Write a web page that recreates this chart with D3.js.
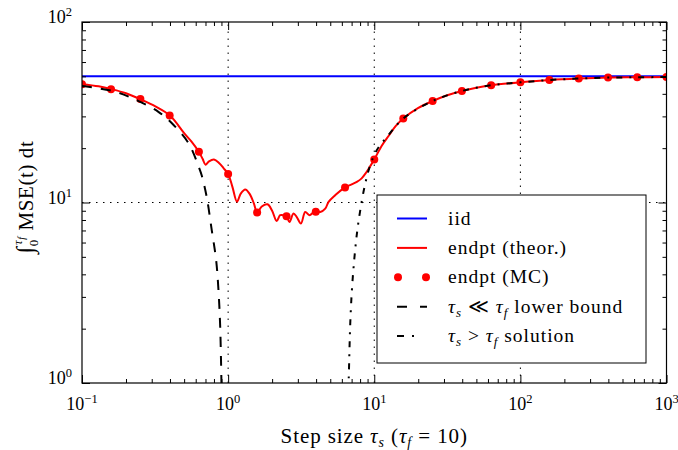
<!DOCTYPE html>
<html>
<head>
<meta charset="utf-8">
<script src="https://cdn.jsdelivr.net/npm/d3@7"></script>
<style>
  body { margin: 0; background: #fff; }
  svg { display: block; }
</style>
</head>
<body>
<div id="chart"></div>
<script>
// ---- data ----
const majorX = [0.1, 1, 10, 100, 1000];
const xExp = ["\u22121", "0", "1", "2", "3"];
const majorY = [1, 10, 100];
const yExp = ["0", "1", "2"];
const gridX = [1, 10, 100];
const gridY = [10];

const iidLevel = 50;

// endpt (theor.)
const theorX = [0.1, 0.13, 0.16, 0.2, 0.25, 0.32, 0.4, 0.5, 0.56, 0.63, 0.67, 0.7, 0.74, 0.8, 0.87, 0.93, 1.0,
  1.07, 1.15, 1.22, 1.31, 1.4, 1.5, 1.58, 1.7, 1.86, 2.0, 2.15, 2.27, 2.4, 2.5, 2.63, 2.8, 2.95, 3.15, 3.37,
  3.6, 3.94, 4.27, 4.62, 4.87, 5.4, 6.26, 7.0, 7.6, 8.2, 8.7, 9.3, 10, 11.2, 12.6, 14, 15.8, 19.9, 25.1, 31.6,
  39.8, 50, 63, 100, 158, 251, 398, 631, 1000];
const theorY = [45.2, 44.0, 42.4, 40.3, 37.4, 34.0, 30.3, 24.2, 21.8, 19.1, 17.4, 16.2, 16.9, 17.3, 16.5, 15.5, 14.4,
  12.2, 10.1, 11.2, 11.8, 11.2, 9.9, 8.8, 9.5, 9.77, 9.0, 7.9, 8.5, 8.5, 8.4, 7.8, 8.7, 8.3, 7.64, 8.86,
  8.5, 8.97, 8.86, 9.25, 10.07, 10.96, 12.1, 12.6, 13.0, 13.6, 14.45, 15.7, 17.3, 20.5, 23.5, 26.5, 29.2, 33.3, 36.5, 39.3,
  41.5, 43.2, 44.6, 46.3, 47.7, 48.6, 49.2, 49.4, 49.6];

// endpt (MC)
const mcX = [0.1, 0.158, 0.251, 0.398, 0.631, 1, 1.58, 2.51, 3.98, 6.31, 10, 15.8, 25.1, 39.8, 63.1, 100, 158, 251, 398, 631, 1000];
const mcY = [45.2, 42.4, 37.4, 30.3, 19.1, 14.4, 8.8, 8.4, 8.9, 12.1, 17.3, 29.2, 36.5, 41.5, 44.6, 46.3, 47.7, 48.6, 49.2, 49.4, 49.6];

// tau_s << tau_f lower bound
const lowX = [0.1, 0.165, 0.238, 0.335, 0.425, 0.538, 0.63, 0.66, 0.714, 0.773, 0.828, 0.859, 0.881, 0.895, 0.902];
const lowY = [44.2, 41.3, 36.8, 31.7, 26.8, 21.2, 15.7, 14.1, 10.7, 7.0, 4.79, 3.26, 2.13, 1.28, 0.9];

// tau_s > tau_f solution
const solX = [6.62, 6.67, 6.85, 7.03, 7.29, 7.61, 8.02, 8.67, 9.39, 10.4, 12.6, 15.8, 25.1, 39.8, 63, 100, 158, 251, 398, 631, 1000];
const solY = [0.9, 1.0, 2.13, 3.26, 4.79, 6.73, 9.05, 12.7, 16.1, 19.5, 23.8, 29.2, 36.5, 41.5, 44.6, 46.3, 47.7, 48.6, 49.2, 49.4, 49.6];

// ---- layout ----
const W = 678, H = 450;
const margin = { top: 22, right: 11.5, bottom: 67, left: 82 };
const serif = "'Liberation Serif', 'Times New Roman', serif";

const svg = d3.select("#chart").append("svg")
    .attr("width", W)
    .attr("height", H);

svg.append("rect").attr("width", W).attr("height", H).attr("fill", "#fff");

const x = d3.scaleLog().domain([0.1, 1000]).range([margin.left, W - margin.right]);
const y = d3.scaleLog().domain([1, 100]).range([H - margin.bottom, margin.top]);

const x0 = x.range()[0], x1 = x.range()[1];
const y0 = y.range()[0], y1 = y.range()[1];

svg.append("clipPath").attr("id", "plot-clip")
  .append("rect")
    .attr("x", x0).attr("y", y1)
    .attr("width", x1 - x0).attr("height", y0 - y1);

// grid (dotted, major only)
const grid = svg.append("g").attr("stroke", "#000").attr("stroke-width", 1)
    .attr("stroke-dasharray", "1.5,5.5");
grid.selectAll(".gx").data(gridX).enter().append("line")
    .attr("x1", d => x(d)).attr("x2", d => x(d))
    .attr("y1", y0).attr("y2", y1);
grid.selectAll(".gy").data(gridY).enter().append("line")
    .attr("y1", d => y(d)).attr("y2", d => y(d))
    .attr("x1", x0).attr("x2", x1);

// ---- series ----
const plot = svg.append("g").attr("clip-path", "url(#plot-clip)");

const line = d3.line()
    .x(d => x(d[0]))
    .y(d => y(d[1]))
    .curve(d3.curveCatmullRom.alpha(0.5));

// iid
plot.append("line")
    .attr("x1", x0).attr("x2", x1)
    .attr("y1", y(iidLevel)).attr("y2", y(iidLevel))
    .attr("stroke", "#0000ff").attr("stroke-width", 2);

// endpt theor.
plot.append("path")
    .datum(d3.zip(theorX, theorY))
    .attr("d", line)
    .attr("fill", "none")
    .attr("stroke", "#ff0000")
    .attr("stroke-width", 2);

// endpt MC
plot.selectAll(".mc")
    .data(d3.zip(mcX, mcY))
    .enter().append("circle")
    .attr("cx", d => x(d[0]))
    .attr("cy", d => y(d[1]))
    .attr("r", 4)
    .attr("fill", "#ff0000");

// lower bound
plot.append("path")
    .datum(d3.zip(lowX, lowY))
    .attr("d", line)
    .attr("fill", "none")
    .attr("stroke", "#000")
    .attr("stroke-width", 2)
    .attr("stroke-dasharray", "10,9");

// solution
plot.append("path")
    .datum(d3.zip(solX, solY))
    .attr("d", line)
    .attr("fill", "none")
    .attr("stroke", "#000")
    .attr("stroke-width", 2)
    .attr("stroke-dasharray", "6,7,2,7");

// ---- ticks (inside, all four sides) ----
const minorX = x.ticks().filter(t => !majorX.some(m => Math.abs(m - t) / m < 1e-6));
const minorY = y.ticks().filter(t => !majorY.some(m => Math.abs(m - t) / m < 1e-6));

function tickAxis(axisFn, scale, values, size, transform) {
  const g = svg.append("g")
      .attr("transform", transform)
      .call(axisFn(scale).tickValues(values).tickSize(size).tickFormat(""));
  g.select(".domain").remove();
  g.selectAll(".tick line").attr("stroke", "#000").attr("stroke-width", 1);
  return g;
}
tickAxis(d3.axisBottom, x, majorX, -8, `translate(0,${y0})`);
tickAxis(d3.axisBottom, x, minorX, -4, `translate(0,${y0})`);
tickAxis(d3.axisTop, x, majorX, -8, `translate(0,${y1})`);
tickAxis(d3.axisTop, x, minorX, -4, `translate(0,${y1})`);
tickAxis(d3.axisLeft, y, majorY, -8, `translate(${x0},0)`);
tickAxis(d3.axisLeft, y, minorY, -4, `translate(${x0},0)`);
tickAxis(d3.axisRight, y, majorY, -8, `translate(${x1},0)`);
tickAxis(d3.axisRight, y, minorY, -4, `translate(${x1},0)`);

// spines
svg.append("rect")
    .attr("x", x0).attr("y", y1)
    .attr("width", x1 - x0).attr("height", y0 - y1)
    .attr("fill", "none").attr("stroke", "#000").attr("stroke-width", 1.2);

// tick labels
const xLab = svg.append("g").attr("font-family", serif).attr("fill", "#000");
majorX.forEach((v, i) => {
  const t = xLab.append("text")
      .attr("x", x(v)).attr("y", y0 + 27)
      .attr("text-anchor", "middle")
      .attr("font-size", 18);
  t.append("tspan").text("10");
  t.append("tspan").attr("font-size", 12.5).attr("dy", -7).text(xExp[i]);
});
const yLab = svg.append("g").attr("font-family", serif).attr("fill", "#000");
majorY.forEach((v, i) => {
  const t = yLab.append("text")
      .attr("x", 72).attr("y", y(v) + 1)
      .attr("text-anchor", "end")
      .attr("font-size", 18);
  t.append("tspan").text("10");
  t.append("tspan").attr("font-size", 12.5).attr("dy", -7).text(yExp[i]);
});

// x axis label
const xt = svg.append("text")
    .attr("x", (x0 + x1) / 2).attr("y", 443)
    .attr("text-anchor", "middle")
    .attr("font-family", serif)
    .attr("font-size", 21)
    .attr("letter-spacing", 0.9);
xt.append("tspan").text("Step size ");
xt.append("tspan").attr("font-style", "italic").text("\u03c4");
xt.append("tspan").attr("font-style", "italic").attr("font-size", 14).attr("dy", 4).text("s");
xt.append("tspan").attr("dy", -4).text(" (");
xt.append("tspan").attr("font-style", "italic").text("\u03c4");
xt.append("tspan").attr("font-style", "italic").attr("font-size", 14).attr("dy", 4).text("f");
xt.append("tspan").attr("dy", -4).text(" = 10)");

// y axis label
const yt = svg.append("text")
    .attr("transform", "translate(33,197) rotate(-90)")
    .attr("text-anchor", "middle")
    .attr("font-family", serif)
    .attr("font-size", 21)
    .attr("letter-spacing", 0.6);
yt.append("tspan").attr("font-size", 24).text("\u222b");
yt.append("tspan").attr("font-size", 13).attr("dy", 5).text("0");
yt.append("tspan").attr("font-size", 13).attr("font-style", "italic").attr("dx", -6).attr("dy", -16).text("\u03c4");
yt.append("tspan").attr("font-size", 10).attr("font-style", "italic").attr("dy", 3).text("f");
yt.append("tspan").attr("dy", 8).text(" MSE(t) dt");

// ---- legend ----
const legendX = 377, legendY = 195, legendW = 269, legendH = 168;
const legend = svg.append("g");
legend.append("rect")
    .attr("x", legendX).attr("y", legendY)
    .attr("width", legendW).attr("height", legendH)
    .attr("fill", "#fff").attr("stroke", "#000").attr("stroke-width", 1);

const rowY = i => legendY + 23.5 + i * 29.4;
const hx0 = legendX + 20, hx1 = legendX + 50, tx = legendX + 71;

// handles
legend.append("line").attr("x1", hx0).attr("x2", hx1).attr("y1", rowY(0)).attr("y2", rowY(0))
    .attr("stroke", "#0000ff").attr("stroke-width", 2);
legend.append("line").attr("x1", hx0).attr("x2", hx1).attr("y1", rowY(1)).attr("y2", rowY(1))
    .attr("stroke", "#ff0000").attr("stroke-width", 2);
[hx0 + 1, hx1 - 1].forEach(cx => legend.append("circle")
    .attr("cx", cx).attr("cy", rowY(2)).attr("r", 4).attr("fill", "#ff0000"));
legend.append("line").attr("x1", hx0).attr("x2", hx1).attr("y1", rowY(3)).attr("y2", rowY(3))
    .attr("stroke", "#000").attr("stroke-width", 2).attr("stroke-dasharray", "10,13");
legend.append("line").attr("x1", hx0).attr("x2", hx1).attr("y1", rowY(4)).attr("y2", rowY(4))
    .attr("stroke", "#000").attr("stroke-width", 2).attr("stroke-dasharray", "7,8,2,20");

// labels
const legendText = (i) => legend.append("text")
    .attr("x", tx).attr("y", rowY(i) + 6)
    .attr("font-family", serif)
    .attr("font-size", 19.5)
    .attr("letter-spacing", 1);

legendText(0).text("iid");
legendText(1).text("endpt (theor.)");
legendText(2).text("endpt (MC)");

function tauLabel(i, sub1, rel, sub2, rest) {
  const t = legendText(i);
  t.append("tspan").attr("font-style", "italic").text("\u03c4");
  t.append("tspan").attr("font-style", "italic").attr("font-size", 13).attr("dy", 4).text(sub1);
  t.append("tspan").attr("dy", -4).text(" " + rel + " ");
  t.append("tspan").attr("font-style", "italic").text("\u03c4");
  t.append("tspan").attr("font-style", "italic").attr("font-size", 13).attr("dy", 4).text(sub2);
  t.append("tspan").attr("dy", -4).text(" " + rest);
}
tauLabel(3, "s", "\u226a", "f", "lower bound");
tauLabel(4, "s", ">", "f", "solution");
</script>
</body>
</html>
